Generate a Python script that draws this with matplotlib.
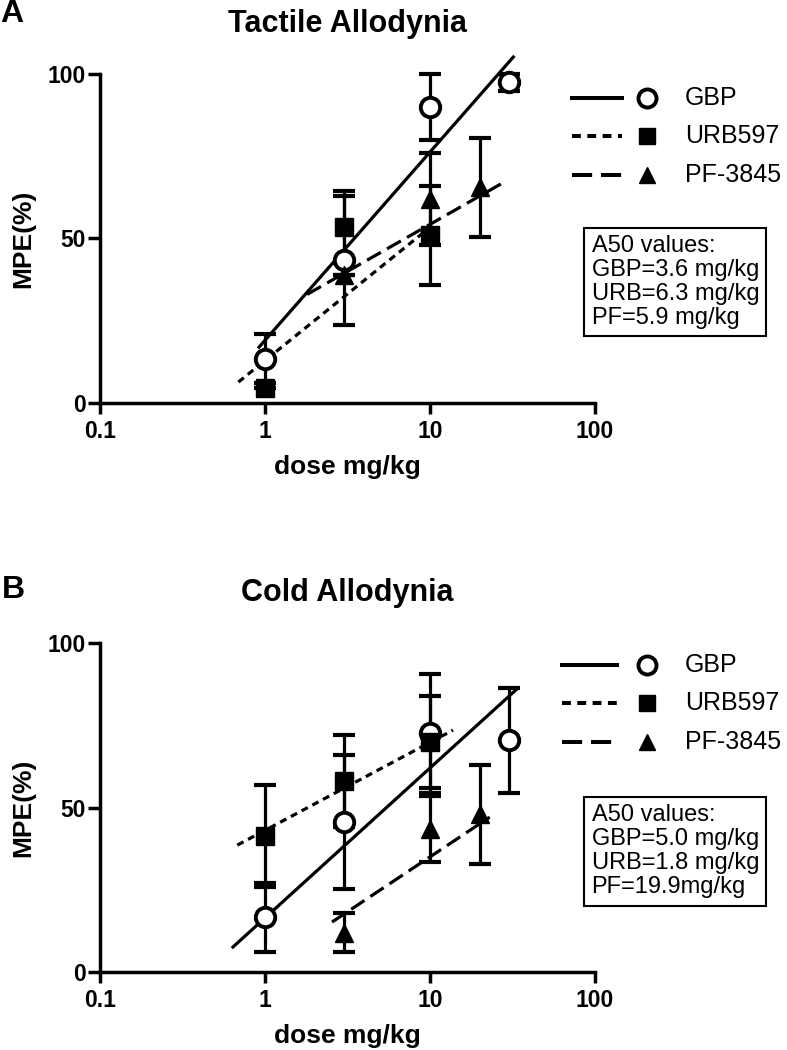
import matplotlib
matplotlib.use("Agg")
import matplotlib.pyplot as plt
import numpy as np

plt.rcParams['font.family'] = ['Liberation Sans', 'DejaVu Sans']

doses = ["GBP", "URB597", "PF-3845"]

# panel A - tactile allodynia
a_gbp_x = [1, 3, 10, 30]
a_gbp_y = [13.5, 43.3, 89.7, 97.3]
a_gbp_e = [7.5, 19.5, 10, 2.5]
a_urb_x = [1, 3, 10]
a_urb_y = [4.5, 53.5, 51]
a_urb_e = [0, 11, 15]
a_pf_x = [3, 10, 20]
a_pf_y = [39, 62, 65.5]
a_pf_e = [0, 14, 15]
# regression lines (end points)
a_fit_gbp = ([0.92, 32], [17, 105])
a_fit_urb = ([0.69, 9.0], [6.4, 51.5])
a_fit_pf = ([1.8, 28], [33.0, 67])
a_text = "A50 values:\nGBP=3.6 mg/kg\nURB=6.3 mg/kg\nPF=5.9 mg/kg"

# panel B - cold allodynia
b_gbp_x = [1, 3, 10, 30]
b_gbp_y = [16.7, 45.6, 72.6, 70.5]
b_gbp_e = [10.5, 20.5, 18, 16]
b_urb_x = [1, 3, 10]
b_urb_y = [41.5, 58, 70]
b_urb_e = [15.5, 14, 14]
b_pf_x = [3, 10, 20]
b_pf_y = [12, 43.5, 48]
b_pf_e = [6, 10, 15]
b_fit_gbp = ([0.64, 34], [7.6, 86.3])
b_fit_urb = ([0.68, 13.8], [38.6, 73.6])
b_fit_pf = ([2.55, 23], [15.2, 47.1])
b_text = "A50 values:\nGBP=5.0 mg/kg\nURB=1.8 mg/kg\nPF=19.9mg/kg"

xticks = [0.1, 1, 10, 100]
xticklabels = ["0.1", "1", "10", "100"]
yticks = [0, 50, 100]

LW = 2.3
styles = {
    "GBP": dict(ls='-', marker='o', mfc='white', ms=14, mew=2.8),
    "URB597": dict(ls=(0, (2.2, 1.6)), marker='s', mfc='black', ms=13, mew=1),
    "PF-3845": dict(ls=(0, (5, 2.2)), marker='^', mfc='black', ms=13, mew=1),
}


def panel(ax, series, fits, boxtext, legrows, legx):
    for name, (x, y, e), (fx, fy) in zip(doses, series, fits):
        st = styles[name]
        ax.plot(fx, fy, color='black', lw=LW, ls=st['ls'], clip_on=False, zorder=2)
        ax.errorbar(x, y, yerr=e, fmt='none', ecolor='black', elinewidth=LW,
                    capsize=8, capthick=3, clip_on=False, zorder=3)
        ax.plot(x, y, ls='none', marker=st['marker'], color='black', mfc=st['mfc'],
                ms=st['ms'], mew=st['mew'], clip_on=False, zorder=4)
    ax.set_xscale('log')
    ax.set_xlim(0.1, 100)
    ax.set_ylim(0, 100)
    ax.set_xticks(xticks)
    ax.set_xticklabels(xticklabels)
    ax.set_yticks(yticks)
    ax.minorticks_off()
    for s in ['top', 'right']:
        ax.spines[s].set_visible(False)
    for s in ['left', 'bottom']:
        ax.spines[s].set_linewidth(2.5)
    ax.tick_params(axis='y', length=9, width=2.5, pad=1, labelsize=16.5)
    ax.tick_params(axis='x', length=8, width=2.5, pad=4, labelsize=16.5)
    for lab in ax.get_xticklabels() + ax.get_yticklabels():
        lab.set_fontweight('bold')
    ax.set_xlabel("dose mg/kg", fontsize=19, fontweight='bold', labelpad=9)
    ax.set_ylabel("MPE(%)", fontsize=19, fontweight='bold', labelpad=9)

    # legend drawn by hand: line sample, marker, label
    for name, yy in zip(doses, legrows):
        st = styles[name]
        ax.plot(legx, [yy, yy], color='black', lw=LW + 0.6, ls=st['ls'],
                transform=ax.transAxes, clip_on=False)
        ax.plot([1.105], [yy], marker=st['marker'], color='black', mfc=st['mfc'],
                ms=st['ms'] - 1, mew=st['mew'], transform=ax.transAxes, clip_on=False)
        ax.text(1.182, yy, name, transform=ax.transAxes, fontsize=18,
                va='center', ha='left')

    ax.text(0.993, 0.367, boxtext, transform=ax.transAxes, fontsize=17,
            va='center', ha='left', linespacing=1.12,
            bbox=dict(boxstyle='square,pad=0.3', fc='white', ec='black', lw=1.5))


fig = plt.figure(figsize=(7.87, 10.5), dpi=100)
axA = fig.add_axes([0.127, 0.616, 0.629, 0.314])
axB = fig.add_axes([0.127, 0.0743, 0.629, 0.313])

panel(axA,
      [(a_gbp_x, a_gbp_y, a_gbp_e), (a_urb_x, a_urb_y, a_urb_e), (a_pf_x, a_pf_y, a_pf_e)],
      [a_fit_gbp, a_fit_urb, a_fit_pf], a_text,
      [0.927, 0.809, 0.691], [0.954, 1.055])
panel(axB,
      [(b_gbp_x, b_gbp_y, b_gbp_e), (b_urb_x, b_urb_y, b_urb_e), (b_pf_x, b_pf_y, b_pf_e)],
      [b_fit_gbp, b_fit_urb, b_fit_pf], b_text,
      [0.933, 0.818, 0.699], [0.933, 1.044])

fig.text(0.441, 0.977, "Tactile Allodynia", fontsize=22, fontweight='bold', ha='center', va='center')
fig.text(0.441, 0.435, "Cold Allodynia", fontsize=22, fontweight='bold', ha='center', va='center')
fig.text(0.0, 0.987, "A", fontsize=23, fontweight='bold', ha='left', va='center')
fig.text(0.003, 0.438, "B", fontsize=23, fontweight='bold', ha='left', va='center')

fig.savefig("out.png", dpi=100)
